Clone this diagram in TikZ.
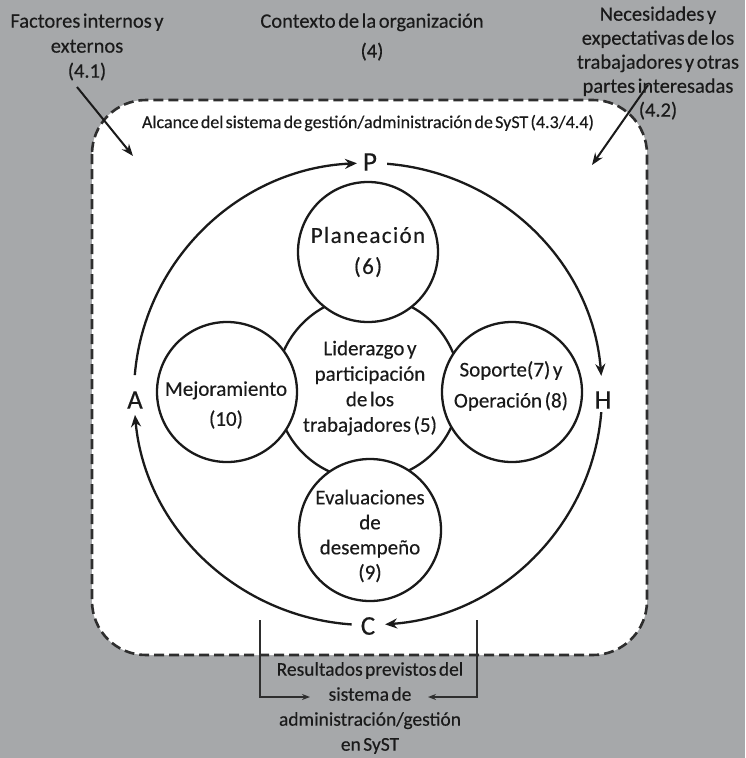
\documentclass[tikz,border=0pt]{standalone}
\usepackage{fontspec}
\setmainfont{Carlito}[WordSpace=0.55, FakeBold=0.3]
\usetikzlibrary{arrows.meta}
\definecolor{bg}{HTML}{A6A8AA}
\definecolor{ink}{HTML}{1A1A1A}
\definecolor{dashc}{HTML}{2E2E2E}
\begin{document}
\begin{tikzpicture}[x=1pt,y=-1pt,
  txt/.style={text=ink, align=center, font=\fontsize{20.5}{25}\selectfont, inner sep=0pt},
  ctxt/.style={text=ink, align=center, font=\fontsize{21}{25.5}\selectfont, inner sep=0pt},
  circ/.style={circle, draw=ink, line width=2.3pt, fill=white, minimum size=140pt, inner sep=0pt},
  letter/.style={text=ink, font=\fontsize{27}{27}\selectfont, inner sep=0pt},
  cycarrow/.style={draw=ink, line width=2.3pt, -{Stealth[length=12pt,width=10pt]}},
  inarrow/.style={draw=ink, line width=2pt, -{Stealth[length=12pt,width=9pt]}},
  outarrow/.style={draw=dashc, line width=1.3pt, -{Stealth[length=8pt,width=6pt]}},
  scopebox/.style={draw=dashc, line width=2.6pt, dash pattern=on 10pt off 5pt, fill=white, rounded corners=54pt}
]
\useasboundingbox (0,0) rectangle (745,758);
\fill[bg] (0,0) rectangle (745,758);

% scope box
\path[scopebox] (92,100) rectangle (647,655);

% top texts
\node[txt] (fact) at (87,47) {Factores internos y\\externos\\(4.1)};
\node[txt, font=\fontsize{20.5}{30}\selectfont] (ctx) at (372,37) {Contexto de la organización\\(4)};
\node[txt, font=\fontsize{20.5}{24}\selectfont] (nec) at (658,63) {Necesidades y\\expectativas de los\\trabajadores y otras\\partes interesadas\\(4.2)};
\node[text=ink, inner sep=0pt, font=\fontsize{18}{20}\selectfont] (alc) at (368,123) {Alcance del sistema de gestión/administración de SyST (4.3/4.4)};

\coordinate (fa1) at (77,87);
\coordinate (fa2) at (133,156);
\coordinate (na1) at (648,85);
\coordinate (na2) at (592,165);
\draw[inarrow] (fa1) -- (fa2);
\draw[inarrow] (na1) -- (na2);

% central circle then the four around it
\node[circ, minimum size=184pt] (lid) at (368,388) {};
\node[circ] (plan) at (368,252) {};
\node[circ] (mej) at (227,392) {};
\node[circ] (sop) at (512,392) {};
\node[circ, minimum size=142pt] (eva) at (370,530) {};

\node[ctxt] (lidt) at (370,388) {Liderazgo y\\participación\\de los\\trabajadores (5)};
\node[ctxt, font=\fontsize{23}{31}\selectfont\addfontfeature{LetterSpace=6}] (plant) at (368,252) {Planeación\\(6)};
\node[ctxt, font=\fontsize{21}{30}\selectfont] (mejt) at (226,405) {Mejoramiento\\(10)};
\node[ctxt, font=\fontsize{21}{31}\selectfont] (sopt) at (511,386) {Soporte(7) y\\Operación (8)};
\node[ctxt, font=\fontsize{21}{25}\selectfont] (evat) at (370,536) {Evaluaciones\\de\\desempeño\\(9)};

% PHCA cycle
\coordinate (O) at (368,394);
\node[letter] (P) at (370,162) {P};
\node[letter] (H) at (603,400) {H};
\node[letter] (C) at (368,626) {C};
\node[letter] (A) at (135,400) {A};
\draw[cycarrow] ([shift={(175.3:234pt and 231pt)}]O) arc[start angle=175.3, end angle=92.7, x radius=234pt, y radius=231pt];
\draw[cycarrow] ([shift={(85.3:234pt and 231pt)}]O) arc[start angle=85.3, end angle=4.5, x radius=234pt, y radius=231pt];
\draw[cycarrow] ([shift={(-4.5:234pt and 231pt)}]O) arc[start angle=-4.5, end angle=-85.8, x radius=234pt, y radius=231pt];
\draw[cycarrow] ([shift={(-94:234pt and 231pt)}]O) arc[start angle=-94, end angle=-174.8, x radius=234pt, y radius=231pt];

% bottom result
\node[txt, font=\fontsize{19.5}{25}\selectfont] (res) at (370,708) {Resultados previstos del\\sistema de\\administración/gestión\\en SyST};
\coordinate (bl1) at (260,620);
\coordinate (bl2) at (310,697);
\coordinate (br1) at (477,620);
\coordinate (br2) at (428,697);
\draw[outarrow] (bl1) |- (bl2);
\draw[outarrow] (br1) |- (br2);
\end{tikzpicture}
\end{document}
